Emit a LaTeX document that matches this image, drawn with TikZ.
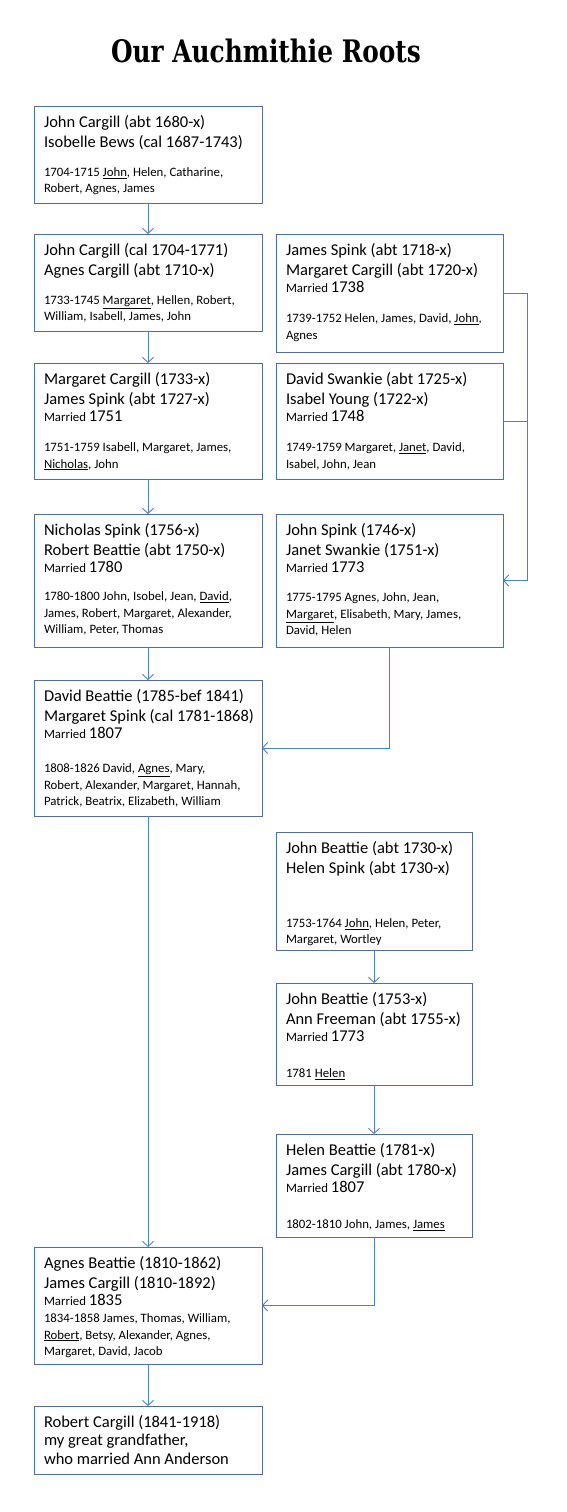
\documentclass[tikz,border=0pt]{standalone}
\usepackage{fontspec}
\setmainfont{Carlito}
\newfontfamily\titlefont{DejaVu Serif}
\usetikzlibrary{arrows.meta,positioning}

\definecolor{cardline}{RGB}{80,110,150}
\definecolor{linkblue}{RGB}{79,129,189}

\newcommand{\namefont}{\fontsize{16.5}{20}\selectfont}
\newcommand{\kidfont}{\fontsize{12.8}{16.3}\selectfont}
\newcommand{\married}[1]{\par{\fontsize{12.8}{17.5}\selectfont Married {\namefont #1}\par}}
\newcommand{\kidgap}[1]{\par\vspace{#1}}
\newcommand{\famcard}[3]{%
  \begin{minipage}[t][\dimexpr#2-14pt\relax][t]{#1}%
  \raggedright\leftskip=10pt\parskip=0pt\namefont\strut#3\par
  \end{minipage}}

\begin{document}
\begin{tikzpicture}[
  x=1pt, y=1pt,
  >={Straight Barb[length=5pt,width=11pt]},
  card/.style={draw=cardline, line width=0.8pt, inner xsep=0pt,
               inner ysep=7pt, outer sep=0pt},
  link/.style={draw=linkblue, line width=0.9pt}
]
  \useasboundingbox[fill=white] (0,0) rectangle (567,-1512);

  \node[font=\titlefont\bfseries\fontsize{31}{34}\selectfont, xscale=0.8, anchor=base]
    (title) at (266,-63) {Our Auchmithie Roots};

  \node[card, anchor=north west] (jcib) at (34,-106) {\famcard{228pt}{97pt}{%
    John Cargill (abt 1680-x)\\ Isobelle Bews (cal 1687-1743)\kidgap{13pt}
    {\kidfont 1704-1715 \underline{John}, Helen, Catharine,\\ Robert, Agnes, James\par}}};
  \node[card, below=31pt of jcib] (jcac) {\famcard{228pt}{97pt}{%
    John Cargill (cal 1704-1771)\\ Agnes Cargill (abt 1710-x)\kidgap{13pt}
    {\kidfont 1733-1745 \underline{Margaret}, Hellen, Robert,\\ William, Isabell, James, John\par}}};
  \node[card, below=32pt of jcac] (mcjs) {\famcard{228pt}{116pt}{%
    Margaret Cargill (1733-x)\\ James Spink (abt 1727-x)\married{1751}\kidgap{14pt}
    {\kidfont 1751-1759 Isabell, Margaret,\ James,\\ \underline{Nicholas}, John\par}}};
  \node[card, below=35pt of mcjs] (nsrb) {\famcard{228pt}{133pt}{%
    Nicholas Spink (1756-x)\\ Robert Beattie (abt 1750-x)\married{1780}\kidgap{12pt}
    {\kidfont 1780-1800 John, Isobel, Jean, \underline{David},\\ James, Robert, Margaret, Alexander,\\
     William, Peter, Thomas\par}}};
  \node[card, below=33pt of nsrb] (dbms) {\famcard{228pt}{136pt}{%
    David Beattie (1785-bef 1841)\\ Margaret Spink (cal 1781-1868)\married{1807}\kidgap{18pt}
    {\kidfont 1808-1826 David, \underline{Agnes}, Mary,\\ Robert, Alexander, Margaret, Hannah,\\
     Patrick, Beatrix, Elizabeth, William\par}}};
  \node[card, below=431pt of dbms] (abjc) {\famcard{228pt}{117pt}{%
    Agnes Beattie (1810-1862)\\ James Cargill (1810-1892)\married{1835}\kidgap{1pt}
    {\kidfont 1834-1858 James, Thomas, William,\\ \underline{Robert}, Betsy, Alexander, Agnes,\\
     Margaret, David, Jacob\par}}};
  \node[card, below=42pt of abjc] (rc) {\famcard{228pt}{68pt}{%
    \fontsize{16.5}{18.5}\selectfont Robert Cargill (1841-1918)\\ my great grandfather,\\ who married Ann Anderson}};

  \node[card, right=14pt of jcac.north east, anchor=north west] (jsmc) {\famcard{227pt}{118pt}{%
    James Spink (abt 1718-x)\\ Margaret Cargill (abt 1720-x)\married{1738}\kidgap{14pt}
    {\kidfont 1739-1752 Helen, James, David, \underline{John},\\ Agnes\par}}};
  \node[card, below=11pt of jsmc] (dsiy) {\famcard{227pt}{116pt}{%
    David Swankie (abt 1725-x)\\ Isabel Young (1722-x)\married{1748}\kidgap{14pt}
    {\kidfont 1749-1759 Margaret, \underline{Janet}, David,\\ Isabel, John, Jean\par}}};
  \node[card, below=35pt of dsiy] (jsjs) {\famcard{227pt}{133pt}{%
    John Spink (1746-x)\\ Janet Swankie (1751-x)\married{1773}\kidgap{13pt}
    {\kidfont 1775-1795 Agnes, John, Jean,\\ \underline{Margaret}, Elisabeth, Mary, James,\\ David, Helen\par}}};
  \node[card, below=185pt of jsjs.south west, anchor=north west] (jbhs) {\famcard{196pt}{118pt}{%
    John Beattie (abt 1730-x)\\ Helen Spink (abt 1730-x)\kidgap{38pt}
    {\kidfont 1753-1764 \underline{John}, Helen, Peter,\\ Margaret, Wortley\par}}};
  \node[card, below=33pt of jbhs] (jbaf) {\famcard{196pt}{102pt}{%
    John Beattie (1753-x)\\ Ann Freeman (abt 1755-x)\married{1773}\kidgap{20pt}
    {\kidfont 1781 \underline{Helen}\par}}};
  \node[card, below=49pt of jbaf] (hbjc) {\famcard{196pt}{103pt}{%
    Helen Beattie (1781-x)\\ James Cargill (abt 1780-x)\married{1807}\kidgap{20pt}
    {\kidfont 1802-1810 John, James, \underline{James}\par}}};

  \draw[link, ->] (jcib) -- (jcac);
  \draw[link, ->] (jcac) -- (mcjs);
  \draw[link, ->] (mcjs) -- (nsrb);
  \draw[link, ->] (nsrb) -- (dbms);
  \draw[link, ->] (dbms) -- (abjc);
  \draw[link, ->] (abjc) -- (rc);
  \draw[link, ->] (jsmc.east) -- ++(24,0) coordinate (trunk) |- (jsjs.east);
  \draw[link] (dsiy.east) -- (dsiy.east -| trunk);
  \draw[link, ->] (jsjs.south) |- (dbms.east);
  \draw[link, ->] (jbhs) -- (jbaf);
  \draw[link, ->] (jbaf) -- (hbjc);
  \draw[link, ->] (hbjc.south) |- (abjc.east);
\end{tikzpicture}
\end{document}
